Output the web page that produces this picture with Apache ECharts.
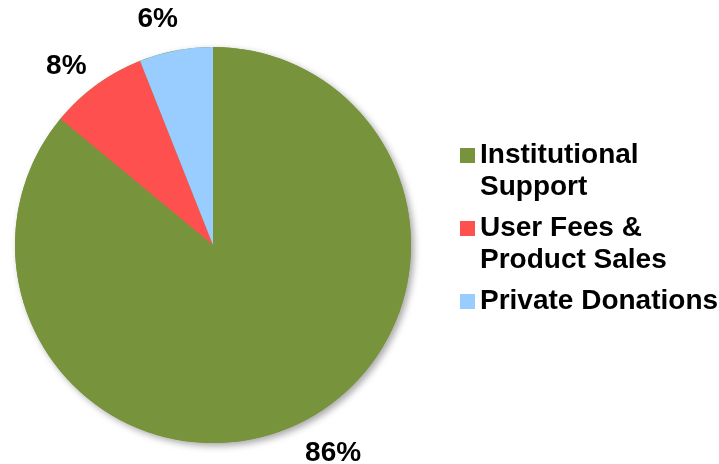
<!DOCTYPE html>
<html>
<head>
<meta charset="utf-8">
<script src="https://cdn.jsdelivr.net/npm/echarts@6/dist/echarts.min.js"></script>
<style>
html,body{margin:0;padding:0;background:#fff;}
#c{width:719px;height:464px;}
</style>
</head>
<body>
<div id="c"></div>
<script>
var categories = ['Institutional Support', 'User Fees & Product Sales', 'Private Donations'];
var legendLabels = ['Institutional\nSupport', 'User Fees &\nProduct Sales', 'Private Donations\n'];
var values = [86, 8, 6];
var colors = ['#77933C', '#FF5050', '#99CCFF'];

var FONT = "'Liberation Sans', Arial, sans-serif";
var center = [213, 245];
var labelCenter = [218, 247];

var realData = categories.map(function (n, i) {
  return { name: n, value: values[i], itemStyle: { color: colors[i] } };
});
var labelData = categories.map(function (n, i) {
  return { name: n, value: values[i] };
});

var chart = echarts.init(document.getElementById('c'));
chart.setOption({
  backgroundColor: '#ffffff',
  animation: false,
  legend: {
    orient: 'vertical',
    left: 455,
    top: 134.5,
    itemWidth: 15,
    itemHeight: 47,
    itemGap: 9,
    icon: 'path://M0,0L15,0L15,15L0,15ZM0,47L0.01,47',
    itemStyle: { borderWidth: 0, shadowBlur: 0 },
    data: categories,
    formatter: function (name) {
      return legendLabels[categories.indexOf(name)];
    },
    textStyle: {
      fontFamily: FONT,
      fontWeight: 'bold',
      fontSize: 28,
      lineHeight: 32,
      color: '#000'
    }
  },
  series: [
    {
      type: 'pie',
      silent: true,
      center: center,
      radius: [0, 198],
      label: { show: false },
      labelLine: { show: false },
      itemStyle: {
        color: '#77933C',
        borderWidth: 0,
        shadowBlur: 7,
        shadowOffsetX: 3,
        shadowOffsetY: 3,
        shadowColor: 'rgba(0,0,0,0.35)'
      },
      data: [{ name: 'shadow', value: 1 }]
    },
    {
      type: 'pie',
      silent: true,
      center: center,
      radius: [0, 198],
      startAngle: 90,
      clockwise: true,
      label: { show: false },
      labelLine: { show: false },
      itemStyle: { borderWidth: 0 },
      data: realData
    },
    {
      type: 'pie',
      silent: true,
      center: labelCenter,
      radius: [0, 466],
      startAngle: 94,
      clockwise: true,
      avoidLabelOverlap: false,
      itemStyle: { color: 'rgba(0,0,0,0)', borderWidth: 0 },
      labelLine: { show: false },
      label: {
        show: true,
        position: 'inside',
        formatter: function (p) { return p.percent + '%'; },
        fontFamily: FONT,
        fontWeight: 'bold',
        fontSize: 28,
        color: '#000'
      },
      data: labelData
    }
  ]
});
</script>
</body>
</html>
